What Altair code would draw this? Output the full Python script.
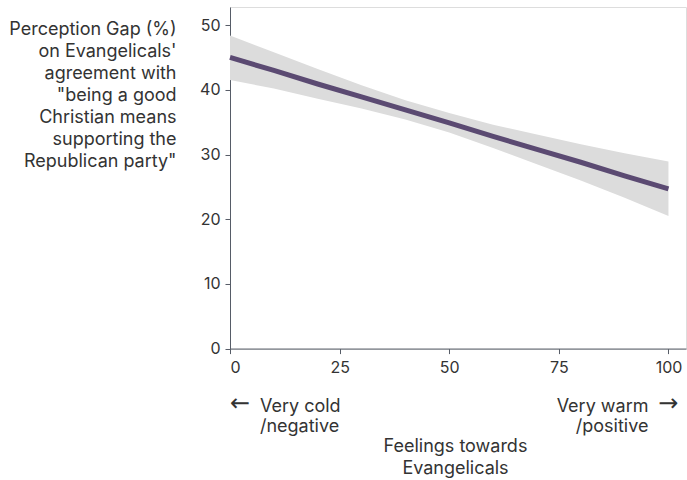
import altair as alt
import pandas as pd

xs = [0, 10, 20, 30, 40, 50, 60, 70, 80, 90, 100]
fit = [45.0, 43.0, 40.9, 38.9, 36.9, 34.9, 32.8, 30.8, 28.8, 26.7, 24.7]
lower = [41.5, 40.2, 38.6, 37.1, 35.4, 33.4, 31.0, 28.5, 26.0, 23.3, 20.5]
upper = [48.4, 45.8, 43.2, 40.7, 38.4, 36.4, 34.6, 33.1, 31.6, 30.2, 28.9]

y_title = ["Perception Gap (%)", "on Evangelicals'", "agreement with",
           "\"being a good", "Christian means", "supporting the", "Republican party\""]
x_title = ["Feelings towards", "Evangelicals"]

df = pd.DataFrame({"x": xs, "fit": fit, "lo": lower, "hi": upper})

FONT = "Inter"
TXT = "#333333"
AX = "#555b66"
TS = 18

xscale = alt.Scale(domain=[0, 104], nice=False)
yscale = alt.Scale(domain=[0, 52.8], nice=False)

band = alt.Chart(df).mark_area(color="#dcdcdc", opacity=1).encode(
    x=alt.X("x:Q", scale=xscale,
            axis=alt.Axis(values=[0, 25, 50, 75, 100], title=x_title, grid=False,
                          domainColor=AX, tickColor=AX, tickSize=5,
                          labelFont=FONT, labelFontSize=16, labelColor=TXT, labelPadding=6,
                          titleFont=FONT, titleFontSize=TS, titleFontWeight="normal",
                          titleColor=TXT, titleLineHeight=22, titleX=225, titleY=103,
                          titleBaseline="alphabetic", titleAlign="center")),
    y=alt.Y("lo:Q", scale=yscale,
            axis=alt.Axis(values=[0, 10, 20, 30, 40, 50], title=y_title, grid=False,
                          domainColor=AX, tickColor=AX, tickSize=5,
                          labelFont=FONT, labelFontSize=16, labelColor=TXT, labelPadding=5,
                          titleFont=FONT, titleFontSize=TS, titleFontWeight="normal",
                          titleColor=TXT, titleLineHeight=22, titleAngle=0,
                          titleAlign="right", titleBaseline="alphabetic",
                          titleX=-54, titleY=28)),
    y2="hi:Q",
)

line = alt.Chart(df).mark_line(color="#5b4a72", strokeWidth=5).encode(
    x=alt.X("x:Q", scale=xscale),
    y=alt.Y("fit:Q", scale=yscale),
)

ann = pd.DataFrame({
    "x": [0, 0, 100, 100],
    "t": ["←", "Very cold\n/negative", "→", "Very warm\n/positive"],
    "dx": [0, 30, 10, -20],
    "dy": [-1, 0, -1, 0],
    "al": ["left", "left", "right", "right"],
    "f": ["DejaVu Sans", FONT, "DejaVu Sans", FONT],
    "s": [24, TS, 24, TS],
})

def ann_layer(i):
    row = ann.iloc[[i]]
    return alt.Chart(row).mark_text(
        font=row["f"].iloc[0], fontSize=int(row["s"].iloc[0]), color=TXT,
        align=row["al"].iloc[0], baseline="alphabetic",
        dx=int(row["dx"].iloc[0]), dy=int(row["dy"].iloc[0]),
        lineBreak="\n", lineHeight=20,
    ).encode(x=alt.X("x:Q", scale=xscale), y=alt.value(405), text="t:N")

chart = alt.layer(band, line, *[ann_layer(i) for i in range(4)]).properties(
    width=456, height=341.6,
    autosize=alt.AutoSizeParams(type="none"),
    padding={"left": 230, "top": 7, "right": 1, "bottom": 131},
).configure_view(stroke=None).configure(background="white")

chart.save("out.html", embed_options={"renderer": "svg", "actions": False})
